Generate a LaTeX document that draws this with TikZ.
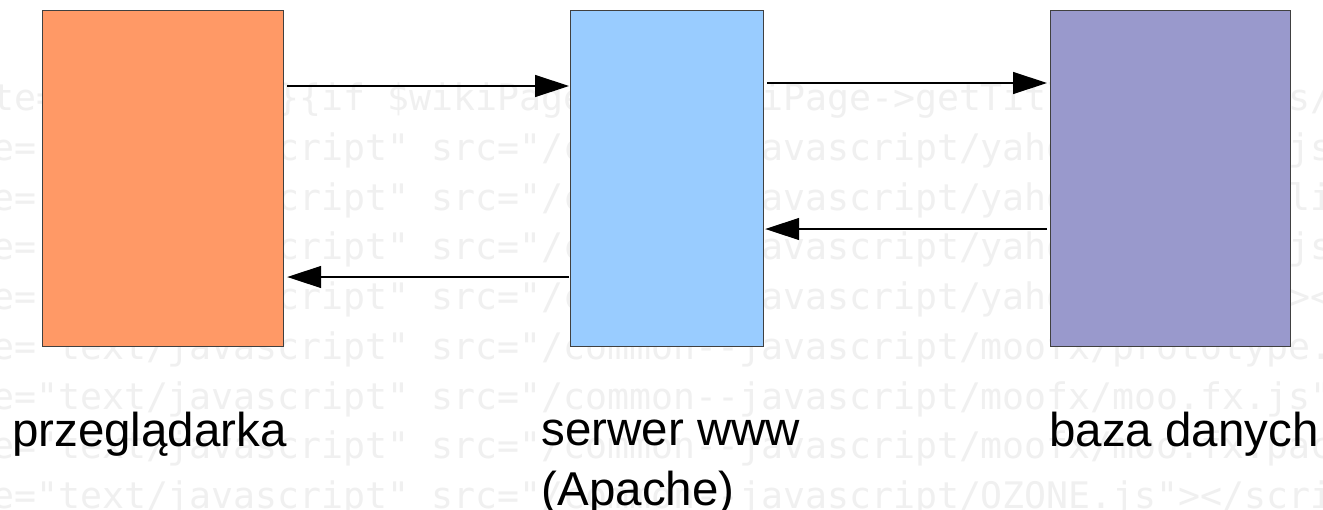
\documentclass[tikz,border=0pt]{standalone}
\usepackage{fontspec}
\setmainfont{Liberation Sans}
\newfontfamily\codefont{DejaVu Sans Mono}
\usetikzlibrary{arrows.meta,calc}
\definecolor{boxorange}{HTML}{FF9966}
\definecolor{boxblue}{HTML}{99CCFF}
\definecolor{boxpurple}{HTML}{9999CC}
\definecolor{codegray}{HTML}{F0F0F0}
\newcommand{\dd}{-\kern0pt-}
\newcommand{\jsp}{e="text/javascript" src="/common\dd javascript/}
\begin{document}
\begin{tikzpicture}[x=1pt,y=-1pt,
  box/.style={draw=black!75,line width=1.2pt,inner sep=0pt,anchor=north west,minimum height=336pt},
  codeline/.style={anchor=base west,inner sep=0pt,text=codegray,font=\codefont\fontsize{36.5}{36.5}\selectfont},
  flow/.style={line width=1.3pt,-{Triangle[length=34pt,width=22pt]}},
  lbl/.style={anchor=base west,inner sep=0pt,font=\fontsize{47.5}{60}\selectfont,align=left}]
\useasboundingbox (0,0) rectangle (1323,509);
\fill[white] (0,0) rectangle (1323,509);
\begin{scope}
\clip (0,0) rectangle (1323,509);
\node[codeline] (c1) at (-8,110.8) {te="\{\$page\}">\}\{if \$wikiPage \&\& \$wikiPage->getTitle()\} /icons/};
\node[codeline] (c2) at (-8,160.5) {\jsp yahoo/dom-min.js"></script>};
\node[codeline] (c3) at (-8,210.2) {\jsp yahoo/dragdroplib.js"></script>};
\node[codeline] (c4) at (-8,259.9) {\jsp yahoo/tabview.js"></script>};
\node[codeline] (c5) at (-8,309.6) {\jsp yahoo/anim.js"></script>};
\node[codeline] (c6) at (-8,359.3) {\jsp moofx/prototype.js"></script>};
\node[codeline] (c7) at (-8,409.0) {\jsp moofx/moo.fx.js"></script>};
\node[codeline] (c8) at (-8,458.7) {\jsp moofx/moo.fx.pack.js"></script>};
\node[codeline] (c9) at (-8,508.4) {\jsp OZONE.js"></script>};
\end{scope}
\node[box,fill=boxorange,minimum width=241pt] (b1) at (42,10) {};
\node[box,fill=boxblue,minimum width=193pt] (b2) at (570,10) {};
\node[box,fill=boxpurple,minimum width=240pt] (b3) at (1050,10) {};
\draw[flow] ($(b1.north east)+(3,76)$) -- ($(b2.north west)+(-1,76)$);
\draw[flow] ($(b2.north east)+(3,73)$) -- ($(b3.north west)+(-3,73)$);
\draw[flow] ($(b3.north west)+(-3,219)$) -- ($(b2.north east)+(1,219)$);
\draw[flow] ($(b2.north west)+(-1,267)$) -- ($(b1.north east)+(3,267)$);
\node[lbl] (l1) at (12,446) {przeglądarka};
\node[lbl] (l2) at (541.5,505) {serwer www\\(Apache)};
\node[lbl] (l3) at (1049,446) {baza danych};
\end{tikzpicture}
\end{document}
